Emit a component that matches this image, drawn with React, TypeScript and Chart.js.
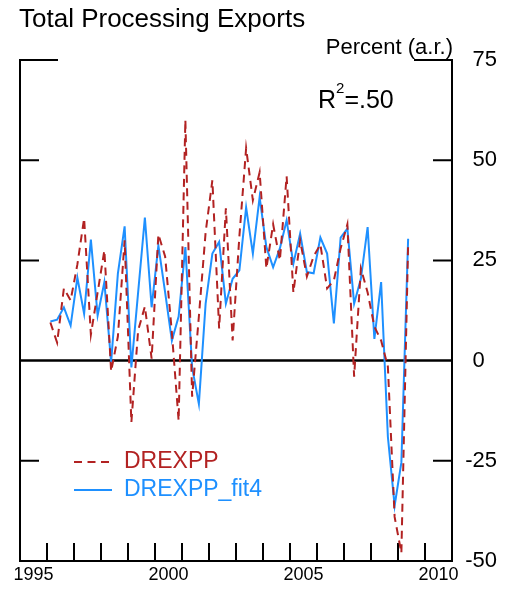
import React, { useEffect, useRef } from "react";
import { Chart, registerables } from "chart.js";

Chart.register(...registerables);

// Quarterly observations (plotted at mid-quarter)
const QUARTERS: string[] = [
  "1995Q3", "1995Q4",
  "1996Q1", "1996Q2", "1996Q3", "1996Q4",
  "1997Q1", "1997Q2", "1997Q3", "1997Q4",
  "1998Q1", "1998Q2", "1998Q3", "1998Q4",
  "1999Q1", "1999Q2", "1999Q3", "1999Q4",
  "2000Q1", "2000Q2", "2000Q3", "2000Q4",
  "2001Q1", "2001Q2", "2001Q3", "2001Q4",
  "2002Q1", "2002Q2", "2002Q3", "2002Q4",
  "2003Q1", "2003Q2", "2003Q3", "2003Q4",
  "2004Q1", "2004Q2", "2004Q3", "2004Q4",
  "2005Q1", "2005Q2", "2005Q3", "2005Q4",
  "2006Q1", "2006Q2", "2006Q3", "2006Q4",
  "2007Q1", "2007Q2", "2007Q3", "2007Q4",
  "2008Q1", "2008Q2", "2008Q3", "2008Q4",
];

const DREXPP: number[] = [
  9.5, 4.5,
  18, 15, 24, 35.5,
  6.5, 17, 27.5, -2.7,
  6, 30, -15.4, 7.5,
  13.5, 0.5, 31.5, 26,
  7, -15, 60, -9,
  11, 32, 45, 8,
  38, 5, 31, 53,
  40, 47, 23, 34,
  25, 46, 17, 30,
  21, 26, 29, 18,
  20, 28, 34, -4,
  23, 17, 8.5, 5,
  -1.5, -39, -48, 29,
];

const DREXPP_FIT4: number[] = [
  9.75, 10.2,
  13.3, 8.75, 20.7, 11.7,
  30.2, 11.25, 19.6, -0.4,
  21.7, 33.5, -1.7, 17,
  35.7, 13.3, 28.75, 17,
  5, 11, 28.3, -1.7,
  -10.8, 14.2, 26.7, 29.6,
  14.2, 20.4, 22.5, 38.2,
  26.7, 40.8, 28.3, 23.3,
  28, 35, 24.2, 31.7,
  22.1, 21.8, 30.7, 26.7,
  9.3, 30.7, 32.9, 14.2,
  20.4, 33.3, 5.4, 19.6,
  -19, -36.2, -25.4, 30.4,
];

const X_TICK_LABELS: number[] = [1995, 2000, 2005, 2010];
const X_MINOR_TICKS: number[] = [
  1995.5, 1996.5, 1997.5, 1998.5, 1999.5, 2000.5, 2001.5, 2002.5,
  2003.5, 2004.5, 2005.5, 2006.5, 2007.5, 2008.5, 2009.5,
];
const Y_TICKS: number[] = [-50, -25, 0, 25, 50, 75];
const Y_INNER_TICKS: number[] = [-25, 25, 50];

const TITLE = "Total Processing Exports";
const UNITS = "Percent (a.r.)";
const R2_TEXT = "=.50";

const RED = "#B22222";
const BLUE = "#1E90FF";
const FONT = "'Liberation Sans', Arial, Helvetica, sans-serif";

const quarterToX = (q: string) =>
  parseInt(q.slice(0, 4), 10) + (parseInt(q.slice(5), 10) - 1) * 0.25 + 0.125;

const framePlugin = {
  id: "frame",
  beforeDatasetsDraw(chart: any) {
    const { ctx, chartArea: ca, scales } = chart;
    const xs = scales.x;
    const ys = scales.y;
    ctx.save();
    ctx.strokeStyle = "#000";
    ctx.lineWidth = 2;
    ctx.setLineDash([]);
    ctx.beginPath();
    // side borders
    ctx.moveTo(ca.left, ca.top);
    ctx.lineTo(ca.left, ca.bottom);
    ctx.moveTo(ca.right, ca.top);
    ctx.lineTo(ca.right, ca.bottom);
    // bottom axis
    ctx.moveTo(ca.left - 1, ca.bottom);
    ctx.lineTo(ca.right + 1, ca.bottom);
    // top ticks (75)
    const yTop = ys.getPixelForValue(75);
    ctx.moveTo(ca.left - 1, yTop);
    ctx.lineTo(ca.left + 38, yTop);
    ctx.moveTo(ca.right - 38, yTop);
    ctx.lineTo(ca.right + 1, yTop);
    // inner y ticks
    Y_INNER_TICKS.forEach((v) => {
      const y = ys.getPixelForValue(v);
      ctx.moveTo(ca.left, y);
      ctx.lineTo(ca.left + 19, y);
      ctx.moveTo(ca.right - 19, y);
      ctx.lineTo(ca.right, y);
    });
    // x minor ticks
    X_MINOR_TICKS.forEach((v) => {
      const x = xs.getPixelForValue(v);
      ctx.moveTo(x, ca.bottom);
      ctx.lineTo(x, ca.bottom - 18);
    });
    ctx.stroke();
    // zero line
    ctx.lineWidth = 2.5;
    const y0 = ys.getPixelForValue(0);
    ctx.beginPath();
    ctx.moveTo(ca.left, y0);
    ctx.lineTo(ca.right, y0);
    ctx.stroke();
    ctx.restore();
  },
  afterDraw(chart: any) {
    const { ctx, chartArea: ca } = chart;
    ctx.save();
    ctx.fillStyle = "#000";
    ctx.textBaseline = "alphabetic";
    // title
    ctx.font = `26px ${FONT}`;
    ctx.textAlign = "left";
    ctx.fillText(TITLE, 19, 27);
    // units
    ctx.font = `22px ${FONT}`;
    ctx.textAlign = "right";
    ctx.fillText(UNITS, ca.right + 1, 54);
    // R^2
    ctx.textAlign = "left";
    ctx.font = `25px ${FONT}`;
    ctx.fillText("R", 318, 108);
    const rW = ctx.measureText("R").width;
    ctx.font = `15px ${FONT}`;
    ctx.fillText("2", 318 + rW, 93);
    const sW = ctx.measureText("2").width;
    ctx.font = `25px ${FONT}`;
    ctx.fillText(R2_TEXT, 318 + rW + sW, 108);

    // legend
    const items = chart.data.datasets;
    const rows = [462, 490];
    items.forEach((ds: any, i: number) => {
      const y = rows[i];
      ctx.strokeStyle = ds.borderColor;
      ctx.lineWidth = 2;
      ctx.setLineDash(ds.borderDash || []);
      ctx.beginPath();
      ctx.moveTo(74, y);
      ctx.lineTo(i === 0 ? 109 : 112, y);
      ctx.stroke();
      ctx.setLineDash([]);
      ctx.fillStyle = ds.borderColor;
      ctx.font = `23px ${FONT}`;
      ctx.textBaseline = "middle";
      ctx.fillText(ds.label, 124, y);
    });
    ctx.restore();
  },
};

export default function App() {
  const canvasRef = useRef<HTMLCanvasElement | null>(null);

  useEffect(() => {
    const canvas = canvasRef.current;
    if (!canvas) return;
    const chart = new Chart(canvas, {
      type: "line",
      data: {
        datasets: [
          {
            label: "DREXPP",
            data: QUARTERS.map((q, i) => ({ x: quarterToX(q), y: DREXPP[i] })),
            borderColor: RED,
            borderWidth: 2,
            borderDash: [8, 5.5],
            pointRadius: 0,
            tension: 0,
            fill: false,
          },
          {
            label: "DREXPP_fit4",
            data: QUARTERS.map((q, i) => ({ x: quarterToX(q), y: DREXPP_FIT4[i] })),
            borderColor: BLUE,
            borderWidth: 2,
            pointRadius: 0,
            tension: 0,
            fill: false,
          },
        ],
      },
      options: {
        animation: false,
        responsive: false,
        devicePixelRatio: 1,
        layout: { padding: { left: 20, top: 60, right: 20, bottom: 0 } },
        plugins: {
          legend: { display: false },
          title: { display: false },
          tooltip: { enabled: false },
        },
        scales: {
          x: {
            type: "linear",
            min: 1994.5,
            max: 2010.5,
            afterBuildTicks: (s: any) => {
              s.ticks = X_TICK_LABELS.map((v) => ({ value: v }));
            },
            afterFit: (s: any) => {
              s.height = 28;
            },
            grid: { display: false, drawTicks: false },
            border: { display: false },
            ticks: {
              autoSkip: false,
              maxRotation: 0,
              padding: 3,
              color: "#000",
              font: { family: FONT, size: 18 },
              callback: (v: any) => String(v),
            },
          },
          y: {
            type: "linear",
            position: "right",
            min: -50,
            max: 75,
            afterBuildTicks: (s: any) => {
              s.ticks = Y_TICKS.map((v) => ({ value: v }));
            },
            afterFit: (s: any) => {
              s.width = 45;
            },
            grid: { display: false, drawTicks: false },
            border: { display: false },
            ticks: {
              crossAlign: "far",
              padding: 13,
              color: "#000",
              font: { family: FONT, size: 22 },
              callback: (v: any) => (Number(v) === 0 ? "0\u2007" : String(v)),
            },
          },
        },
      },
      plugins: [framePlugin],
    });
    return () => chart.destroy();
  }, []);

  return (
    <div style={{ position: "fixed", left: 0, top: 0, width: 517, height: 589, background: "#fff" }}>
      <canvas ref={canvasRef} width={517} height={589} style={{ width: 517, height: 589, display: "block" }} />
    </div>
  );
}
